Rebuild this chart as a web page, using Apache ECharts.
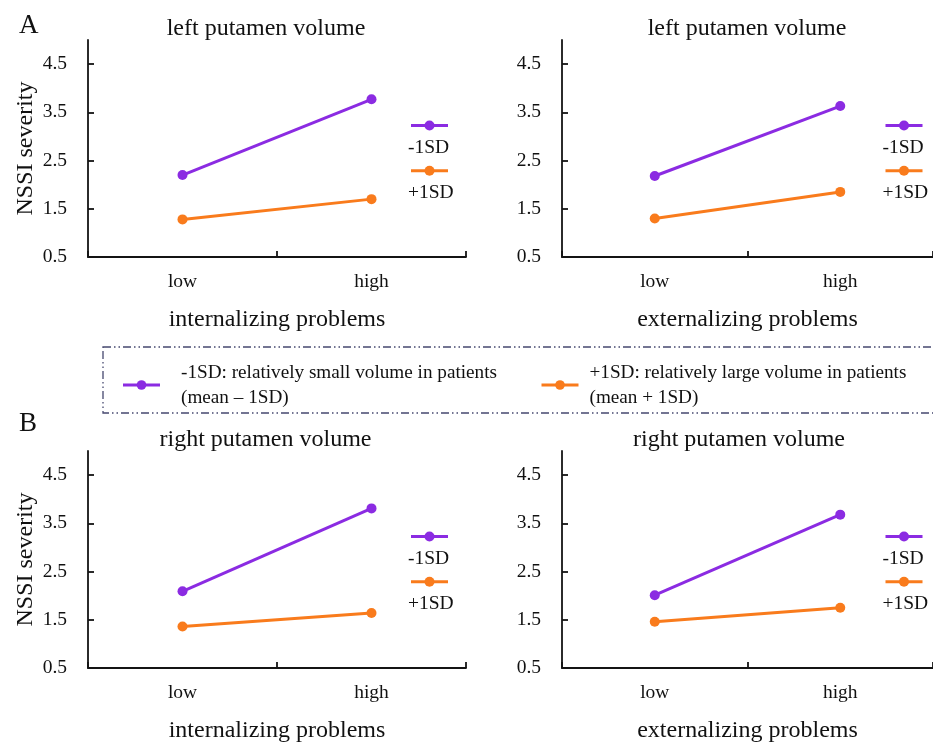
<!DOCTYPE html>
<html>
<head>
<meta charset="utf-8">
<script src="https://cdn.jsdelivr.net/npm/echarts@6/dist/echarts.min.js"></script>
<style>
  html, body { margin: 0; padding: 0; background: #fff; }
  #chart { width: 933px; height: 744px; }
</style>
</head>
<body>
<div id="chart"></div>
<script>
// ---- data ----
const categories = ['low', 'high'];
const yTickValues = [0.5, 1.5, 2.5, 3.5, 4.5];
const panelTitles = ['left putamen volume', 'left putamen volume', 'right putamen volume', 'right putamen volume'];
const xAxisNames = ['internalizing problems', 'externalizing problems', 'internalizing problems', 'externalizing problems'];
const yAxisName = 'NSSI severity';
const seriesNames = ['-1SD', '+1SD'];
const legendTexts = ['-1SD: relatively small volume in patients\n(mean \u2013 1SD)', '+1SD: relatively large volume in patients\n(mean + 1SD)'];
const panelLetters = ['A', 'B'];

// values: [low, high]
const leftInternalMinus = [2.20, 3.77];
const leftInternalPlus = [1.28, 1.70];
const leftExternalMinus = [2.18, 3.63];
const leftExternalPlus = [1.30, 1.85];
const rightInternalMinus = [2.09, 3.81];
const rightInternalPlus = [1.36, 1.64];
const rightExternalMinus = [2.01, 3.68];
const rightExternalPlus = [1.46, 1.75];

const panelData = [
  [leftInternalMinus, leftInternalPlus],
  [leftExternalMinus, leftExternalPlus],
  [rightInternalMinus, rightInternalPlus],
  [rightExternalMinus, rightExternalPlus]
];

// ---- styling / layout ----
const FONT = "'Liberation Serif', 'Times New Roman', serif";
const colors = ['#8B2BE2', '#F97B1C'];
const axisColor = '#141414';
const textColor = '#111';

const gridRects = [
  { left: 88, top: 40, width: 378, height: 217 },
  { left: 562, top: 40, width: 377, height: 217 },
  { left: 88, top: 451, width: 378, height: 217 },
  { left: 562, top: 451, width: 377, height: 217 }
];
const titlePos = [
  { x: 266, y: 17 },
  { x: 747, y: 17 },
  { x: 265.5, y: 428 },
  { x: 739, y: 428 }
];
const keyLeft = [411, 885.5, 411, 885.5];

const grids = [], xAxes = [], yAxes = [], series = [], titles = [], graphics = [];

gridRects.forEach((g, i) => {
  grids.push(Object.assign({ containLabel: false }, g));
  xAxes.push({
    type: 'category',
    gridIndex: i,
    data: categories,
    boundaryGap: true,
    name: xAxisNames[i],
    nameLocation: 'middle',
    nameGap: 51,
    nameTextStyle: { fontFamily: FONT, fontSize: 24, color: textColor },
    axisLine: { show: true, lineStyle: { color: axisColor, width: 1.8 } },
    axisTick: { show: true, inside: true, length: 6, lineStyle: { color: axisColor, width: 1.8 } },
    axisLabel: { fontFamily: FONT, fontSize: 19.5, color: textColor, margin: 15 },
    splitLine: { show: false }
  });
  yAxes.push({
    type: 'value',
    gridIndex: i,
    min: 0.5,
    max: 5,
    name: (i % 2 === 0) ? yAxisName : '',
    nameLocation: 'middle',
    nameGap: 50,
    nameTextStyle: { fontFamily: FONT, fontSize: 24, color: textColor },
    axisLine: { show: true, lineStyle: { color: axisColor, width: 1.8 } },
    axisTick: { show: true, inside: true, length: 6, customValues: yTickValues, lineStyle: { color: axisColor, width: 1.8 } },
    axisLabel: {
      fontFamily: FONT, fontSize: 19.5, color: textColor, margin: 21,
      customValues: yTickValues,
      formatter: v => Number(v).toFixed(1)
    },
    splitLine: { show: false }
  });
  panelData[i].forEach((vals, s) => {
    series.push({
      name: seriesNames[s],
      type: 'line',
      xAxisIndex: i,
      yAxisIndex: i,
      data: vals,
      symbol: 'circle',
      symbolSize: 10,
      lineStyle: { color: colors[s], width: 3 },
      itemStyle: { color: colors[s] },
      emphasis: { disabled: true },
      animation: false
    });
  });
  titles.push({
    text: panelTitles[i],
    left: titlePos[i].x,
    top: titlePos[i].y,
    textAlign: 'center',
    padding: 0,
    textStyle: { fontFamily: FONT, fontSize: 24, fontWeight: 'normal', color: textColor }
  });
  // per-panel keys
  const T = g.top, L = keyLeft[i];
  const keyLineY = [T + 85.5, T + 130.7];
  const keyTextY = [T + 108, T + 152.5];
  [0, 1].forEach(s => {
    graphics.push({
      type: 'line', silent: true,
      shape: { x1: L, y1: keyLineY[s], x2: L + 37, y2: keyLineY[s] },
      style: { stroke: colors[s], lineWidth: 3 }
    });
    graphics.push({
      type: 'circle', silent: true,
      shape: { cx: L + 18.5, cy: keyLineY[s], r: 5 },
      style: { fill: colors[s] }
    });
    graphics.push({
      type: 'text', silent: true,
      x: L - 3, y: keyTextY[s],
      style: { text: seriesNames[s], font: '19.5px ' + FONT, fill: textColor, textVerticalAlign: 'middle', textAlign: 'left' }
    });
  });
});

// panel letters
graphics.push({ type: 'text', silent: true, x: 19, y: 12, style: { text: panelLetters[0], font: '27px ' + FONT, fill: textColor } });
graphics.push({ type: 'text', silent: true, x: 19, y: 410, style: { text: panelLetters[1], font: '27px ' + FONT, fill: textColor } });

// dash-dot-dot legend frame
graphics.push({
  type: 'rect', silent: true,
  shape: { x: 103, y: 347, width: 860, height: 66 },
  style: { fill: 'none', stroke: '#46486f', lineWidth: 1.3, lineDash: [8, 3, 1.5, 3, 1.5, 3] }
});

const legendLeft = [121.5, 540];
const legendTextPadLeft = [16, 6];
const legends = seriesNames.map((nm, s) => ({
  data: [nm],
  left: legendLeft[s],
  top: 356,
  padding: 0,
  itemWidth: 37,
  itemHeight: 12,
  selectedMode: false,
  lineStyle: { width: 3 },
  formatter: () => legendTexts[s],
  textStyle: { fontFamily: FONT, fontSize: 19.2, color: textColor, lineHeight: 25, padding: [0, 0, 8, legendTextPadLeft[s]] }
}));

const chart = echarts.init(document.getElementById('chart'), null, { renderer: 'canvas' });
chart.setOption({
  backgroundColor: '#fff',
  animation: false,
  title: titles,
  legend: legends,
  grid: grids,
  xAxis: xAxes,
  yAxis: yAxes,
  series: series,
  graphic: graphics
});
</script>
</body>
</html>
